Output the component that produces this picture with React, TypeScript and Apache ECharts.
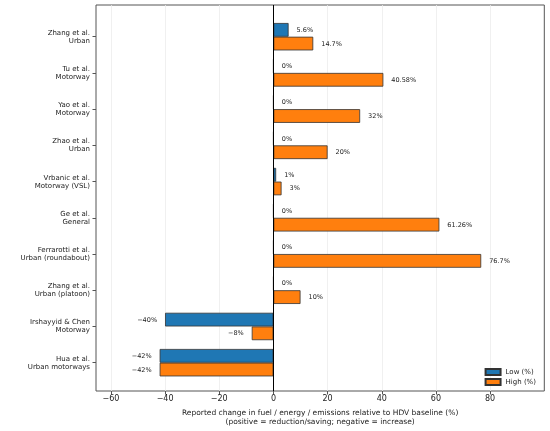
import React, { useEffect, useRef } from "react";
import * as echarts from "echarts";

const categories = [
  "Zhang et al.\nUrban",
  "Tu et al.\nMotorway",
  "Yao et al.\nMotorway",
  "Zhao et al.\nUrban",
  "Vrbanic et al.\nMotorway (VSL)",
  "Ge et al.\nGeneral",
  "Ferrarotti et al.\nUrban (roundabout)",
  "Zhang et al.\nUrban (platoon)",
  "Irshayyid & Chen\nMotorway",
  "Hua et al.\nUrban motorways",
];
const lowValues = [5.6, 0, 0, 0, 1, 0, 0, 0, -40, -42];
const highValues = [14.7, 40.58, 32, 20, 3, 61.26, 76.7, 10, -8, -42];
const xTicks = [-60, -40, -20, 0, 20, 40, 60, 80];
const seriesNames = ["Low (%)", "High (%)"];

const FONT = "DejaVu Sans";
const fmt = (v: number) => (v < 0 ? "\u2212" + Math.abs(v) : String(v));

const toItems = (vals: number[]) =>
  vals.map((v) => ({
    value: v,
    label: { position: v < 0 ? "left" : "right" },
  }));

export default function App() {
  const ref = useRef<HTMLDivElement>(null);
  useEffect(() => {
    if (!ref.current) return;
    const chart = echarts.init(ref.current, undefined, { renderer: "svg" });
    const barLabel = {
      show: true,
      distance: 8,
      fontSize: 6.5,
      fontFamily: FONT,
      color: "#222",
      formatter: (p: any) => fmt(p.value) + "%",
    };
    const barCommon = {
      type: "bar",
      xAxisIndex: 0,
      yAxisIndex: 0,
      barWidth: 13.7,
      barGap: "0%",
      label: barLabel,
    };
    chart.setOption({
      animation: false,
      textStyle: { fontFamily: FONT },
      grid: [
        { left: 96, right: 5.7, top: 18.6, bottom: 50.2, show: false },
        {
          left: 96,
          right: 5.7,
          top: 5,
          bottom: 37.7,
          show: true,
          borderColor: "#555",
          borderWidth: 1,
          backgroundColor: "transparent",
        },
      ],
      legend: {
        data: seriesNames,
        orient: "vertical",
        right: 14,
        top: 368,
        padding: 0,
        itemWidth: 15,
        itemHeight: 6,
        itemGap: 2,
        icon: "rect",
        textStyle: { fontSize: 7, fontFamily: FONT, color: "#222" },
      },
      xAxis: [
        {
          type: "value",
          gridIndex: 0,
          min: -65.5,
          max: 100,
          show: false,
        },
        {
          type: "value",
          gridIndex: 1,
          min: -65.5,
          max: 100,
          axisLine: { show: false },
          axisTick: {
            show: true,
            customValues: xTicks,
            length: 3.5,
            lineStyle: { color: "#555" },
          },
          axisLabel: {
            customValues: xTicks,
            fontSize: 8,
            fontFamily: FONT,
            color: "#222",
            margin: 3,
            formatter: (v: number) => fmt(v),
          },
          splitLine: { show: true, lineStyle: { color: "#ececec", width: 0.8 } },
          name:
            "Reported change in fuel / energy / emissions relative to HDV baseline (%)\n(positive = reduction/saving; negative = increase)",
          nameLocation: "middle",
          nameGap: 17,
          nameTextStyle: {
            fontSize: 7.5,
            lineHeight: 9,
            fontFamily: FONT,
            color: "#222",
            verticalAlign: "top",
          },
        },
      ],
      yAxis: [
        {
          type: "category",
          gridIndex: 0,
          data: categories,
          inverse: true,
          axisLine: { show: false, onZero: false },
          axisTick: {
            show: true,
            alignWithLabel: true,
            length: 3.5,
            lineStyle: { color: "#555" },
          },
          axisLabel: {
            fontSize: 7,
            lineHeight: 8,
            fontFamily: FONT,
            color: "#222",
            margin: 6,
          },
          splitLine: { show: false },
        },
        { type: "value", gridIndex: 1, min: 0, max: 1, show: false },
      ],
      series: [
        {
          ...barCommon,
          name: seriesNames[0],
          data: toItems(lowValues),
          itemStyle: { color: "#1f77b4", borderColor: "#333", borderWidth: 0.8 },
        },
        {
          ...barCommon,
          name: seriesNames[1],
          data: toItems(highValues),
          itemStyle: { color: "#ff7f0e", borderColor: "#333", borderWidth: 0.8 },
        },
        {
          type: "line",
          xAxisIndex: 1,
          yAxisIndex: 1,
          data: [],
          silent: true,
          markLine: {
            symbol: "none",
            silent: true,
            label: { show: false },
            lineStyle: { color: "#000", width: 1, type: "solid" },
            data: [{ xAxis: 0 }],
          },
        },
      ],
    });
    return () => chart.dispose();
  }, []);
  return (
    <div
      ref={ref}
      style={{ position: "fixed", left: 0, top: 0, width: 550, height: 431 }}
    />
  );
}
